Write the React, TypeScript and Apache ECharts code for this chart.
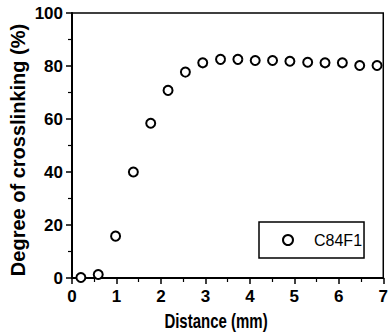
import React, { useEffect, useRef } from "react";
import * as echarts from "echarts";

const distances = [0.2, 0.59, 0.98, 1.38, 1.77, 2.16, 2.55, 2.94, 3.34, 3.73, 4.12, 4.51, 4.9, 5.3, 5.69, 6.08, 6.47, 6.86];
const crosslinking = [0.2, 1.3, 15.8, 40, 58.4, 70.8, 77.7, 81.2, 82.5, 82.5, 82.1, 82.1, 81.8, 81.4, 81.2, 81.2, 80.2, 80.2];
const seriesName = "C84F1";
const xTitle = "Distance (mm)";
const yTitle = "Degree of crosslinking (%)";

const SANS = "'Liberation Sans', Arial, Helvetica, sans-serif";

export default function App() {
  const ref = useRef<HTMLDivElement>(null);
  useEffect(() => {
    if (!ref.current) return;
    const chart = echarts.init(ref.current, null, { renderer: "svg" });
    const data = distances.map((d, i) => [d, crosslinking[i]]);
    chart.setOption({
      animation: false,
      backgroundColor: "#ffffff",
      grid: {
        left: 72,
        right: 5,
        top: 13,
        bottom: 56,
        show: true,
        borderColor: "#000",
        borderWidth: 1.5,
        backgroundColor: "transparent",
      },
      xAxis: {
        type: "value",
        min: 0,
        max: 7,
        interval: 1,
        axisLine: { show: true, onZero: false, lineStyle: { color: "#000", width: 2 } },
        axisTick: { show: true, inside: false, length: 6, lineStyle: { color: "#000", width: 1.5 } },
        minorTick: { show: true, splitNumber: 2, length: 4, lineStyle: { color: "#000", width: 1.2 } },
        splitLine: { show: false },
        axisLabel: { color: "#000", fontFamily: SANS, fontWeight: "bold", fontSize: 17, margin: 10 },
      },
      yAxis: {
        type: "value",
        min: 0,
        max: 100,
        interval: 20,
        axisLine: { show: true, onZero: false, lineStyle: { color: "#000", width: 2 } },
        axisTick: { show: true, inside: false, length: 6, lineStyle: { color: "#000", width: 1.5 } },
        minorTick: { show: true, splitNumber: 2, length: 4, lineStyle: { color: "#000", width: 1.2 } },
        splitLine: { show: false },
        axisLabel: { color: "#000", fontFamily: SANS, fontWeight: "bold", fontSize: 17, margin: 9 },
      },
      legend: {
        show: true,
        left: 259,
        top: 222,
        orient: "horizontal",
        borderColor: "#000",
        borderWidth: 1.5,
        padding: [10, 2, 10, 23],
        itemWidth: 10,
        itemHeight: 10,
        textStyle: { color: "#000", fontFamily: SANS, fontSize: 16, padding: [0, 0, 0, 16] },
        data: [{ name: seriesName }],
      },
      graphic: [
        {
          type: "text",
          x: 216,
          y: 321,
          scaleY: 1.3,
          style: {
            text: xTitle,
            font: `bold 15px ${SANS}`,
            fill: "#000",
            align: "center",
            verticalAlign: "middle",
          },
        },
        {
          type: "text",
          x: 18,
          y: 150,
          rotation: Math.PI / 2,
          style: {
            text: yTitle,
            font: `bold 20px ${SANS}`,
            fill: "#000",
            align: "center",
            verticalAlign: "middle",
          },
        },
      ],
      series: [
        {
          name: seriesName,
          type: "scatter",
          data,
          symbol: "emptyCircle",
          symbolSize: 9,
          itemStyle: { color: "#000", borderColor: "#000", borderWidth: 2, opacity: 1 },
        },
      ],
    });
    return () => chart.dispose();
  }, []);
  return <div ref={ref} style={{ width: 391, height: 334, position: "absolute", left: 0, top: 0 }} />;
}
